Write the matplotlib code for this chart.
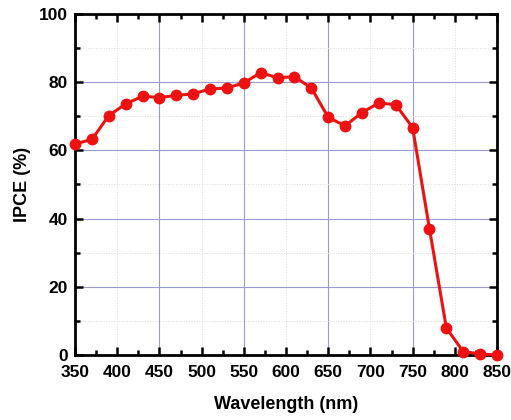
import matplotlib
matplotlib.use("Agg")
import matplotlib.pyplot as plt
from matplotlib.ticker import MultipleLocator

wavelength = [350, 370, 390, 410, 430, 450, 470, 490, 510, 530, 550, 570, 590, 610,
              630, 650, 670, 690, 710, 730, 750, 770, 790, 810, 830, 850]
ipce = [61.9, 63.2, 70.2, 73.6, 75.9, 75.5, 76.1, 76.6, 78.0, 78.3, 79.8, 82.8, 81.3, 81.6,
        78.3, 69.7, 67.2, 71.1, 73.9, 73.4, 66.7, 37.0, 7.9, 1.0, 0.3, 0.0]

plt.rcParams['font.family'] = ['Liberation Sans', 'DejaVu Sans']

fig = plt.figure(figsize=(5.11, 4.2), dpi=100)
ax = fig.add_axes([0.1468, 0.1548, 0.9726 - 0.1468, 0.9667 - 0.1548])

ax.set_xlim(350, 850)
ax.set_ylim(0, 100)
ax.xaxis.set_major_locator(MultipleLocator(50))
ax.xaxis.set_minor_locator(MultipleLocator(25))
ax.yaxis.set_major_locator(MultipleLocator(20))
ax.yaxis.set_minor_locator(MultipleLocator(10))

# grid: strong lines every 100 nm (from 450) and every 20 %, faint dotted in between
for xv in range(450, 850, 100):
    ax.axvline(xv, color='#9a9ad0', linewidth=0.8, zorder=0)
for xv in range(400, 850, 100):
    ax.axvline(xv, color='#dcdcdc', linewidth=0.7, linestyle=':', zorder=0)
ax.grid(which='major', axis='y', color='#9a9ad0', linewidth=0.8)
ax.grid(which='minor', axis='y', color='#dcdcdc', linewidth=0.7, linestyle=':')
ax.set_axisbelow(True)

ax.plot(wavelength, ipce, color='#ee1111', linewidth=2.2, marker='o', markersize=7.5,
        clip_on=False, zorder=3)

for s in ax.spines.values():
    s.set_linewidth(2)
ax.tick_params(which='both', direction='in', top=True, right=True, width=1.8)
ax.tick_params(which='major', length=6, labelsize=12.5)
ax.tick_params(axis='x', which='major', pad=7)
ax.tick_params(axis='y', which='major', pad=5)
ax.tick_params(which='minor', length=3.5)
for lab in ax.get_xticklabels() + ax.get_yticklabels():
    lab.set_fontweight('bold')

ax.set_xlabel('Wavelength (nm)', fontsize=13, fontweight='bold', labelpad=12)
ax.set_ylabel('IPCE (%)', fontsize=13, fontweight='bold', labelpad=6)

fig.savefig('out.png', dpi=100)
